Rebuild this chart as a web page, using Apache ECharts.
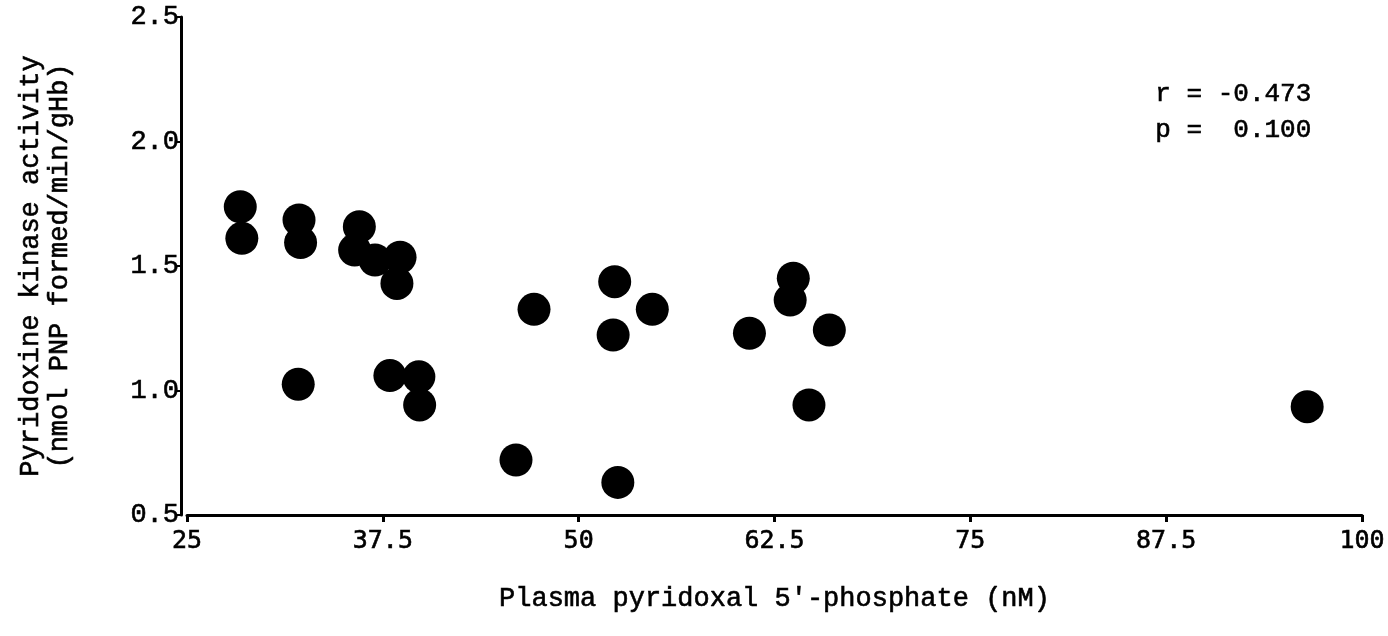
<!DOCTYPE html>
<html>
<head>
<meta charset="utf-8">
<script src="https://cdn.jsdelivr.net/npm/echarts@6/dist/echarts.min.js"></script>
<style>
html,body{margin:0;padding:0;background:#fff;}
#chart{width:1388px;height:636px;}
</style>
</head>
<body>
<div id="chart"></div>
<script>
// Plasma pyridoxal 5'-phosphate (nM)
const plpValues = [28.4, 28.5, 32.15, 32.25, 36.0, 35.7, 37.0, 38.6, 38.4, 32.1, 37.95, 39.8, 39.85,
                   47.15, 52.3, 54.7, 52.2, 46.0, 52.5,
                   63.7, 63.5, 60.9, 66.0, 64.7, 96.5];
// Pyridoxine kinase activity (nmol PNP formed/min/gHb)
const kinaseValues = [1.738, 1.611, 1.685, 1.594, 1.658, 1.564, 1.524, 1.535, 1.43, 1.025, 1.06, 1.055, 0.942,
                      1.326, 1.437, 1.326, 1.223, 0.721, 0.631,
                      1.451, 1.363, 1.23, 1.243, 0.942, 0.935];
const xTicks = [25, 37.5, 50, 62.5, 75, 87.5, 100];
const yTicks = [0.5, 1.0, 1.5, 2.0, 2.5];
const statLines = ['r = -0.473', 'p =  0.100'];

const points = plpValues.map((v, i) => [v, kinaseValues[i]]);
const chart = echarts.init(document.getElementById('chart'));
const black = '#000';
const ink = {color: '#000', textBorderColor: '#000', textBorderWidth: 0.6};
chart.setOption({
  backgroundColor: '#fff',
  animation: false,
  grid: {left: 187, right: 26, top: 17, bottom: 121, containLabel: false},
  xAxis: {
    type: 'value', min: xTicks[0], max: xTicks[xTicks.length - 1], interval: 12.5,
    name: "Plasma pyridoxal 5'-phosphate (nM)",
    nameLocation: 'middle', nameGap: 70,
    nameTextStyle: Object.assign({fontFamily: 'Liberation Mono', fontSize: 27}, ink),
    axisLine: {show: true, lineStyle: {color: black, width: 3}},
    axisTick: {show: true, inside: false, length: 7, lineStyle: {color: black, width: 3}},
    splitLine: {show: false},
    axisLabel: Object.assign({
      fontFamily: 'DejaVu Sans Mono', fontSize: 25, margin: 14,
      formatter: v => xTicks.indexOf(v) >= 0 ? String(v) : ''
    }, ink)
  },
  yAxis: {
    type: 'value', min: yTicks[0], max: yTicks[yTicks.length - 1], interval: 0.5,
    offset: 6,
    name: 'Pyridoxine kinase activity\n(nmol PNP formed/min/gHb)',
    nameLocation: 'middle', nameGap: 107, nameRotate: 90,
    nameTextStyle: Object.assign({fontFamily: 'Liberation Mono', fontSize: 27, lineHeight: 29}, ink),
    axisLine: {show: true, lineStyle: {color: black, width: 3}},
    axisTick: {show: true, inside: false, length: 5, lineStyle: {color: black, width: 2}},
    splitLine: {show: false},
    axisLabel: Object.assign({
      fontFamily: 'Liberation Mono', fontSize: 27, margin: 2,
      formatter: v => v.toFixed(1)
    }, ink)
  },
  graphic: [{
    type: 'text', left: 1155, top: 76,
    style: {text: statLines.join('\n'), fontFamily: 'Liberation Mono', fontSize: 26, lineHeight: 36,
            fill: '#000', stroke: '#000', lineWidth: 0.6}
  }],
  series: [{
    type: 'scatter', data: points, symbol: 'circle', symbolSize: 33,
    itemStyle: {color: black, opacity: 1}
  }]
});
</script>
</body>
</html>
